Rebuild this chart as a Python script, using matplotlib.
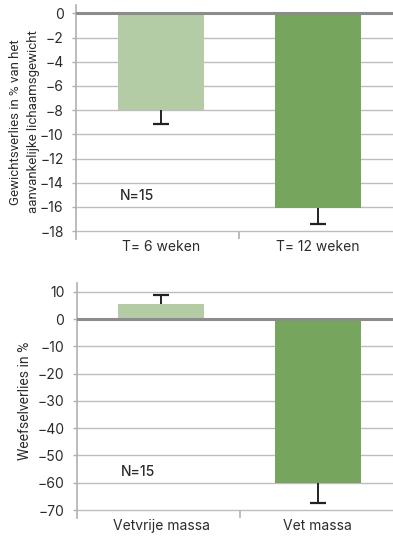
import matplotlib.pyplot as plt
import numpy as np

plt.rcParams['font.family'] = ['Inter', 'DejaVu Sans']

# data
cats_1 = ['T= 6 weken', 'T= 12 weken']
vals_1 = [-8.0, -16.1]
ends_1 = [-9.15, -17.45]      # end of the (one-sided) error bars

cats_2 = ['Vetvrije massa', 'Vet massa']
vals_2 = [5.5, -60.2]
ends_2 = [8.8, -67.3]

light = '#b3cca6'
dark = '#76a55e'
txt = '#2b2b2b'
grid_c = '#bdbdbd'
zero_c = '#8c8c8c'
sz = 10

fig = plt.figure(figsize=(3.93, 5.36), dpi=100)
ax_0 = fig.add_axes([76/393, 1-239/536, 317/393, 234/536])
ax_1 = fig.add_axes([77/393, 1-518/536, 316/393, 235/536])


def style(ax, yticks, ylim):
    ax.set_xlim(-0.54, 1.48)
    ax.set_ylim(*ylim)
    ax.set_yticks(yticks)
    ax.set_yticklabels([str(t).replace('-', '\u2212') for t in yticks])
    for s in ['top', 'right', 'bottom']:
        ax.spines[s].set_visible(False)
    ax.spines['left'].set_color('#b0b0b0')
    ax.spines['left'].set_linewidth(1.2)
    ax.yaxis.grid(True, color=grid_c, linewidth=1.0)
    ax.set_axisbelow(True)
    ax.axhline(0, color=zero_c, linewidth=2.2, zorder=3)
    ax.tick_params(axis='y', length=3, width=1, color='#b0b0b0',
                   pad=6, labelsize=sz, labelcolor=txt)
    ax.set_xticks([0, 1])
    ax.tick_params(axis='x', length=0, pad=1, labelsize=sz, labelcolor=txt)
    ax.set_xticks([0.5], minor=True)
    ax.tick_params(axis='x', which='minor', direction='in', length=6,
                   width=1.2, color='#b0b0b0')


def errs(ax, x, vals, ends):
    ax.vlines(x, vals, ends, color='#222222', linewidth=1.4, zorder=4)
    ax.plot(x, ends, ls='none', marker='_', markersize=11, mew=1.6,
            color='#222222', zorder=4)


# top chart
x = np.arange(len(cats_1))
ax_0.bar(x, vals_1, width=0.55, color=[light, dark], zorder=2)
errs(ax_0, x, vals_1, ends_1)
style(ax_0, list(range(0, -19, -2)), (-18.66, 0.7))
ax_0.set_xticklabels(cats_1)
ax_0.set_ylabel('Gewichtsverlies in % van het\naanvankelijke lichaamsgewicht',
                fontsize=9.5, color=txt, linespacing=1.5, family='Roboto')
ax_0.yaxis.set_label_coords(-0.115, 0.5)
ax_0.text(-0.26, -15.1, 'N=15', fontsize=sz, color=txt, va='center',
          fontweight='medium')

# bottom chart
ax_1.bar(x, vals_2, width=0.55, color=[light, dark], zorder=2)
errs(ax_1, x, vals_2, ends_2)
style(ax_1, list(range(10, -71, -10)), (-72.9, 13.2))
ax_1.set_xticklabels(cats_2)
ax_1.set_ylabel('Weefselverlies in %', fontsize=10, color=txt, family='Roboto')
ax_1.yaxis.set_label_coords(-0.142, 0.5)
ax_1.text(-0.26, -56, 'N=15', fontsize=sz, color=txt, va='center',
          fontweight='medium')

plt.savefig('out.png', dpi=100)
